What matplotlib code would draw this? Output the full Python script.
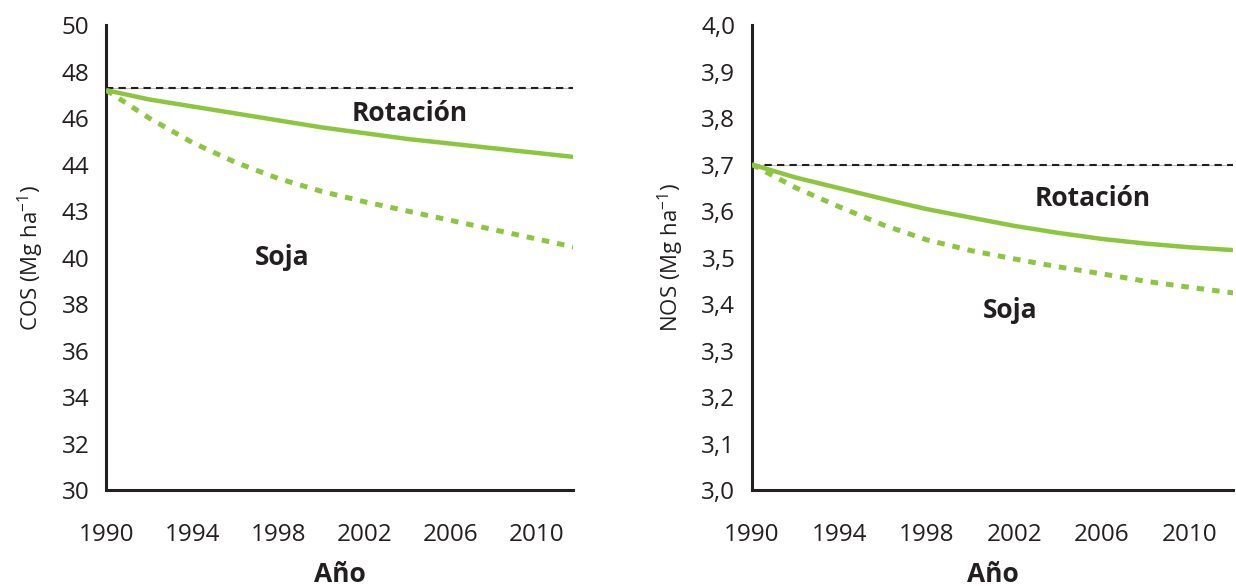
import matplotlib.pyplot as plt

plt.rcParams['font.family'] = ['Open Sans', 'DejaVu Sans']
plt.rcParams['mathtext.default'] = 'regular'
plt.rcParams['axes.unicode_minus'] = False

years = [1990, 1992, 1994, 1996, 1998, 2000, 2002, 2004, 2006, 2008, 2010, 2012]

cos_rotacion = [47.2, 46.8, 46.5, 46.2, 45.9, 45.6, 45.35, 45.1, 44.9, 44.7, 44.5, 44.3]
cos_soja = [47.2, 46.0, 44.95, 44.1, 43.4, 42.85, 42.4, 42.0, 41.6, 41.2, 40.8, 40.4]
cos_base = 47.3

nos_rotacion = [3.700, 3.672, 3.649, 3.626, 3.604, 3.586, 3.568, 3.553, 3.540, 3.530, 3.522, 3.516]
nos_soja = [3.700, 3.650, 3.609, 3.570, 3.538, 3.515, 3.497, 3.480, 3.465, 3.449, 3.436, 3.424]
nos_base = 3.70

xticks = [1990, 1994, 1998, 2002, 2006, 2010]
cos_ticks = [30, 32, 34, 36, 38, 40, 42, 44, 46, 48, 50]
cos_ticklabels = ["30", "32", "34", "36", "38", "40", "43", "44", "46", "48", "50"]
nos_ticks = [3.0, 3.1, 3.2, 3.3, 3.4, 3.5, 3.6, 3.7, 3.8, 3.9, 4.0]
nos_ticklabels = ["3,0", "3,1", "3,2", "3,3", "3,4", "3,5", "3,6", "3,7", "3,8", "3,9", "4,0"]

green = "#8cc63f"
dark = "#231f20"

fig = plt.figure(figsize=(12.36, 5.86), dpi=100)
ax1 = fig.add_axes([0.0858, 0.1638, 0.3778, 0.7935])
ax2 = fig.add_axes([0.6084, 0.1638, 0.3892, 0.7935])


def style(ax, base, rot, soja, ticks, ticklabels, ylim, xmax, ylabel, rot_xy, soja_xy):
    ax.axhline(base, color="#bbbbbb", lw=0.8, zorder=1)
    ax.axhline(base, color=dark, lw=1.5, ls=(0, (3.5, 2.5)), zorder=2)
    ax.plot(years, rot, color=green, lw=3.2, solid_capstyle="butt", zorder=3)
    ax.plot(years, soja, color=green, lw=3.6, ls=(0, (1.5, 1.6)), zorder=3)

    ax.set_xlim(1990, xmax)
    ax.set_ylim(*ylim)
    ax.set_xticks(xticks)
    ax.set_xticklabels([str(x) for x in xticks])
    ax.set_yticks(ticks)
    ax.set_yticklabels(ticklabels)
    ax.tick_params(length=0, labelsize=17.5, colors=dark)
    ax.tick_params(axis="y", pad=12)
    ax.tick_params(axis="x", pad=24)
    # small cross mark at the origin
    ax.set_yticks([ylim[0]], minor=True)
    ax.set_xticks([1990], minor=True)
    ax.tick_params(which="minor", length=6, width=1.8, color=dark)

    for s in ["top", "right"]:
        ax.spines[s].set_visible(False)
    for s in ["left", "bottom"]:
        ax.spines[s].set_linewidth(2.2)
        ax.spines[s].set_color(dark)

    ax.set_xlabel("Año", fontsize=19, fontweight="bold", color=dark, labelpad=10)
    ax.set_ylabel(ylabel, fontsize=16, color=dark, labelpad=11)

    ax.text(*rot_xy, "Rotación", fontsize=19, fontweight="bold", color=dark,
            ha="center", va="center")
    ax.text(*soja_xy, "Soja", fontsize=19, fontweight="bold", color=dark,
            ha="center", va="center")


style(ax1, cos_base, cos_rotacion, cos_soja, cos_ticks, cos_ticklabels, (30, 50), 2011.7,
      "COS (Mg ha$^{-1}$)", (2004.1, 46.2), (1998.2, 40.0))
style(ax2, nos_base, nos_rotacion, nos_soja, nos_ticks, nos_ticklabels, (3.0, 4.0), 2012.0,
      "NOS (Mg ha$^{-1}$)", (2005.6, 3.626), (2001.8, 3.385))

plt.savefig("out.png", dpi=100)
